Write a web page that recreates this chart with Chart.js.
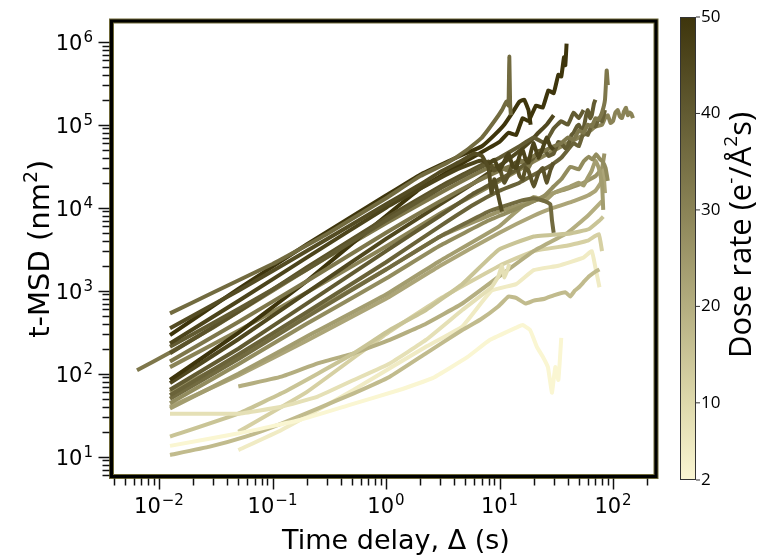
<!DOCTYPE html>
<html>
<head>
<meta charset="utf-8">
<script src="https://cdn.jsdelivr.net/npm/chart.js@4/dist/chart.umd.min.js"></script>
<style>
  html, body { margin: 0; padding: 0; background: #fff; }
</style>
</head>
<body>
<canvas id="myChart" width="767" height="556"></canvas>
<script>
// tick labels
const xMajor = [0.01, 0.1, 1, 10, 100];
const xExp = ["\u22122", "\u22121", "0", "1", "2"];
const yMajor = [10, 100, 1000, 1e4, 1e5, 1e6];
const yExp = ["1", "2", "3", "4", "5", "6"];
const cbarTicks = [2, 10, 20, 30, 40, 50];

// colour map of the dose rate
const cmapStops = [2, 10, 20, 30, 40, 50];
const cmapColors = [[250, 246, 210], [222, 217, 172], [180, 174, 128], [138, 131, 86], [98, 91, 50], [62, 53, 12]];

// dose rate of each trajectory
const doseRates = [36, 44, 50, 46, 40, 42, 33, 50, 45, 40, 38, 36, 28, 24, 8, 2, 17, 15, 5, 20, 33, 30, 22, 26, 12];

// time delay (s) and t-MSD (nm^2) per trajectory
const t01 = [0.0125, 0.03, 0.1, 0.3, 1, 2, 3.5, 5, 7, 9, 10.5, 11.5, 12, 12.2, 12.4, 12.6];
const m01 = [533, 950, 2100, 4800, 13000, 24000, 35000, 48000, 70000, 110000, 150000, 190000, 170000, 660000, 180000, 130000];
const t02 = [0.0125, 0.05, 0.2, 1, 2, 3, 4.5, 6, 7, 8, 8.5, 9, 10, 10.5];
const m02 = [352, 1000, 3000, 11000, 19000, 27000, 36000, 45000, 42000, 30000, 15000, 22000, 12000, 9000];
const t03 = [0.0125, 0.05, 0.2, 1, 2, 3.5, 5, 7, 9, 11, 13, 15, 16.5, 18, 18.8];
const m03 = [292, 1050, 3600, 14000, 25000, 36000, 45000, 55000, 75000, 100000, 140000, 190000, 200000, 150000, 100000];
const t04 = [0.0125, 0.05, 0.2, 1, 2, 4, 6, 7, 8, 9, 10, 11, 12, 13, 14, 15, 16, 17, 18, 19, 20, 22, 24, 26, 28, 30];
const m04 = [232, 750, 2500, 10000, 17000, 28000, 35000, 37000, 34000, 38000, 28000, 36000, 45000, 32000, 30000, 42000, 50000, 38000, 35000, 48000, 60000, 40000, 52000, 70000, 55000, 50000];
const t05 = [0.0125, 0.05, 0.2, 1, 3, 6, 10, 15, 20, 25, 30, 35, 40, 45, 50, 55];
const m05 = [211, 600, 1800, 7000, 17000, 28000, 40000, 55000, 70000, 60000, 90000, 110000, 100000, 140000, 120000, 150000];
const t06 = [0.0125, 0.05, 0.2, 1, 3, 5, 7, 8, 9, 10, 11, 12, 13, 14, 15, 16, 17, 18, 20, 22, 24, 26, 28, 30];
const m06 = [176, 560, 1900, 7500, 18000, 26000, 33000, 36000, 28000, 30000, 20000, 25000, 33000, 35000, 24000, 22000, 30000, 28000, 18000, 26000, 30000, 20000, 28000, 35000];
const t07 = [0.0125, 0.05, 0.2, 1, 3, 6, 10, 15, 20, 30, 35, 40, 45, 50, 55, 60, 65, 70, 75, 80, 85, 88, 90];
const m07 = [140, 420, 1300, 5000, 12000, 20000, 28000, 35000, 42000, 55000, 60000, 70000, 66000, 85000, 80000, 100000, 95000, 120000, 115000, 140000, 200000, 450000, 300000];
const t08 = [0.0125, 0.05, 0.2, 0.6, 2, 5, 10, 12, 14, 16, 18, 21, 24, 27, 30, 33, 35, 37, 38, 39];
const m08 = [84, 310, 1300, 4500, 17000, 36000, 62000, 80000, 75000, 120000, 110000, 170000, 160000, 260000, 240000, 400000, 380000, 650000, 520000, 950000];
const t09 = [0.0125, 0.05, 0.2, 1, 3, 6, 10, 14, 18, 22, 26, 30];
const m09 = [77, 260, 950, 4200, 11000, 20000, 32000, 45000, 60000, 80000, 100000, 130000];
const t10 = [0.0125, 0.05, 0.2, 1, 3, 6, 10, 15, 20, 22, 25, 27, 30, 33, 35, 38, 40, 43, 45, 48, 50, 53, 55, 58, 60, 63, 65, 68, 70];
const m10 = [64, 200, 700, 3000, 8000, 15000, 22000, 30000, 40000, 48000, 50000, 42000, 45000, 62000, 60000, 52000, 55000, 75000, 80000, 95000, 100000, 85000, 90000, 130000, 150000, 120000, 130000, 180000, 200000];
const t11 = [0.0125, 0.05, 0.2, 1, 3, 6, 10, 15, 20, 28, 35, 45, 50, 55, 60, 65, 70, 75, 80, 85];
const m11 = [55, 170, 550, 2200, 6000, 11000, 16000, 20000, 25000, 32000, 40000, 60000, 55000, 80000, 75000, 100000, 95000, 120000, 110000, 150000];
const t12 = [0.0125, 0.05, 0.2, 1, 3, 8, 15, 20, 25, 28, 29, 30];
const m12 = [50, 150, 480, 1800, 4500, 9000, 12000, 13000, 12000, 11000, 7000, 5000];
const t13 = [0.0125, 0.05, 0.2, 1, 3, 8, 15, 25, 30, 35, 42, 50, 55, 61, 66, 71, 76, 81, 86, 90];
const m13 = [44, 130, 400, 1400, 3500, 7000, 10000, 14000, 18000, 22000, 31000, 29000, 36000, 41000, 38000, 44000, 39000, 36000, 30000, 21000];
const t14 = [0.0125, 0.05, 0.2, 1, 3, 10, 20, 25, 30, 42, 50, 55, 61, 65, 70, 75, 80, 82];
const m14 = [38, 100, 280, 900, 2300, 6000, 13500, 12000, 15000, 18000, 20000, 18500, 24000, 28000, 37000, 30000, 19600, 9400];
const t15 = [0.0125, 0.05, 0.12, 0.25, 0.52, 1.08, 2.25, 4.7, 8.5, 9.8, 10.5, 11, 11.8, 12.2];
const m15 = [33, 33, 40, 53, 84, 133, 255, 585, 1100, 1500, 2000, 1450, 1800, 2100];
const t16 = [0.0125, 0.052, 0.175, 0.48, 1.33, 2.6, 5.2, 8.2, 14.3, 16, 18.6, 21.4, 24.2, 26.7, 27.8, 29, 31, 33, 35];
const m16 = [13.5, 19.3, 27.7, 42, 64, 89, 158, 254, 363, 386, 336, 209, 158, 120, 84, 59, 120, 84, 270];
const t17 = [0.0125, 0.028, 0.058, 0.12, 0.25, 0.52, 1.08, 2.25, 4.7, 6.8, 9.8, 12, 14, 17, 20, 25, 30, 38, 42, 46, 50, 56, 62, 70, 76];
const m17 = [10.5, 13.2, 17.4, 25, 38, 58, 92, 176, 336, 450, 650, 850, 820, 700, 760, 800, 880, 960, 850, 1000, 1100, 1300, 1500, 1700, 1800];
const t18 = [0.0125, 0.05, 0.12, 0.25, 0.52, 1.08, 2.25, 4.7, 9.8, 20, 42, 61, 76, 82];
const m18 = [17.4, 33, 58, 100, 176, 336, 585, 1200, 3100, 4500, 4900, 5500, 7000, 7800];
const t19 = [0.05, 0.12, 0.25, 0.52, 1.08, 2.25, 4.7, 8.5, 14, 20, 33, 55, 65, 70, 76];
const m19 = [12, 21, 36.5, 64, 116, 211, 370, 1000, 1200, 1770, 2000, 2500, 3000, 1900, 1100];
const t20 = [0.05, 0.12, 0.25, 0.52, 1.08, 2.25, 4.7, 10, 20, 40, 60, 80];
const m20 = [70, 92, 133, 176, 255, 400, 700, 1500, 3000, 5000, 8000, 12000];
const t21 = [0.0064, 0.0125, 0.03, 0.1, 0.3, 1, 3, 6, 9, 12, 15, 18, 20];
const m21 = [110, 180, 360, 1000, 2500, 6500, 15000, 25000, 32000, 28000, 38000, 30000, 42000];
const t22 = [0.0125, 0.05, 0.2, 1, 3, 10, 20, 40, 60, 70, 80, 85, 90, 95, 100, 105, 110, 115, 120, 125, 130, 135, 140, 145, 150];
const m22 = [120, 330, 950, 3400, 8500, 21000, 36000, 60000, 80000, 95000, 100000, 120000, 130000, 105000, 110000, 140000, 150000, 125000, 120000, 145000, 160000, 130000, 140000, 135000, 120000];
const t23 = [0.0125, 0.05, 0.2, 1, 3, 10, 20, 30, 45, 60, 70, 78, 82, 85];
const m23 = [40, 95, 250, 800, 2000, 5000, 8000, 10000, 12000, 14000, 16000, 20000, 28000, 15000];
const t24 = [0.0125, 0.05, 0.2, 1, 3, 10, 20, 30, 40, 55, 70, 80, 84];
const m24 = [60, 160, 500, 1800, 4500, 9000, 12000, 15000, 17000, 20000, 24000, 30000, 45000];
const t25 = [0.05, 0.2, 1, 3, 10, 20, 40, 60, 75, 80];
const m25 = [20, 60, 300, 800, 2000, 3000, 3500, 4000, 4800, 3000];

const times = [t01, t02, t03, t04, t05, t06, t07, t08, t09, t10, t11, t12, t13, t14, t15, t16, t17, t18, t19, t20, t21, t22, t23, t24, t25];
const msds = [m01, m02, m03, m04, m05, m06, m07, m08, m09, m10, m11, m12, m13, m14, m15, m16, m17, m18, m19, m20, m21, m22, m23, m24, m25];

function doseColor(d) {
  let i = 0;
  while (i < cmapStops.length - 2 && d > cmapStops[i + 1]) i++;
  const f = Math.min(1, Math.max(0, (d - cmapStops[i]) / (cmapStops[i + 1] - cmapStops[i])));
  const a = cmapColors[i], b = cmapColors[i + 1];
  const c = a.map((v, k) => Math.round(v + (b[k] - v) * f));
  return `rgb(${c[0]},${c[1]},${c[2]})`;
}

const datasets = doseRates.map((d, i) => ({
  data: times[i].map((t, j) => ({ x: t, y: msds[i][j] })),
  borderColor: doseColor(d),
  borderWidth: 4,
  pointRadius: 0,
  fill: false,
  tension: 0.1,
}));

function drawPow(ctx, x, y, exp, align) {
  ctx.font = "21px 'DejaVu Sans'";
  const wb = ctx.measureText("10").width;
  ctx.font = "15px 'DejaVu Sans'";
  const we = ctx.measureText(exp).width;
  const w = wb + we + 1;
  let left = align === "right" ? x - w : x - w / 2;
  ctx.fillStyle = "#000";
  ctx.textAlign = "left";
  ctx.textBaseline = "alphabetic";
  ctx.font = "21px 'DejaVu Sans'";
  ctx.fillText("10", left, y);
  ctx.font = "15px 'DejaVu Sans'";
  ctx.fillText(exp, left + wb + 1, y - 8);
}

const decorations = {
  id: "decorations",
  afterDatasetsDraw(chart) {
    const ctx = chart.ctx;
    const xs = chart.scales.x, ys = chart.scales.y;
    const a = chart.chartArea;
    ctx.save();

    // frame
    ctx.strokeStyle = "rgb(110,104,55)";
    ctx.lineWidth = 5;
    ctx.strokeRect(a.left, a.top, a.right - a.left, a.bottom - a.top);
    ctx.strokeStyle = "#000";
    ctx.lineWidth = 3;
    ctx.strokeRect(a.left, a.top, a.right - a.left, a.bottom - a.top);

    // ticks
    ctx.strokeStyle = "#111";
    ctx.lineWidth = 1.5;
    for (let e = -3; e <= 2; e++) {
      for (let m = 1; m <= 9; m++) {
        const v = m * Math.pow(10, e);
        if (v < xs.min || v > xs.max) continue;
        const px = Math.round(xs.getPixelForValue(v)) + 0.5;
        const len = m === 1 ? 11 : 7;
        ctx.beginPath();
        ctx.moveTo(px, a.bottom + 2);
        ctx.lineTo(px, a.bottom + 2 + len);
        ctx.stroke();
      }
    }
    for (let e = 0; e <= 6; e++) {
      for (let m = 1; m <= 9; m++) {
        const v = m * Math.pow(10, e);
        if (v < ys.min || v > ys.max) continue;
        const py = Math.round(ys.getPixelForValue(v)) + 0.5;
        const len = m === 1 ? 11 : 7;
        ctx.beginPath();
        ctx.moveTo(a.left - 2, py);
        ctx.lineTo(a.left - 2 - len, py);
        ctx.stroke();
      }
    }

    // tick labels
    xMajor.forEach((v, i) => drawPow(ctx, xs.getPixelForValue(v), 513, xExp[i], "center"));
    yMajor.forEach((v, i) => drawPow(ctx, 93, ys.getPixelForValue(v) + 8, yExp[i], "right"));

    // axis titles
    ctx.fillStyle = "#000";
    ctx.font = "27px 'DejaVu Sans'";
    ctx.textAlign = "center";
    ctx.textBaseline = "alphabetic";
    ctx.fillText("Time delay, \u0394 (s)", 396, 549);

    ctx.save();
    ctx.translate(49, (a.top + a.bottom) / 2);
    ctx.rotate(-Math.PI / 2);
    ctx.font = "29px 'DejaVu Sans'";
    const w1 = ctx.measureText("t-MSD (nm").width;
    ctx.font = "19px 'DejaVu Sans'";
    const w2 = ctx.measureText("2").width;
    ctx.font = "29px 'DejaVu Sans'";
    const w3 = ctx.measureText(")").width;
    let sx = -(w1 + w2 + w3) / 2;
    ctx.textAlign = "left";
    ctx.fillText("t-MSD (nm", sx, 0);
    ctx.font = "19px 'DejaVu Sans'";
    ctx.fillText("2", sx + w1, -12);
    ctx.font = "29px 'DejaVu Sans'";
    ctx.fillText(")", sx + w1 + w2, 0);
    ctx.restore();

    // colour bar
    const cbL = 680, cbR = 696, cbT = 17, cbB = 480;
    const dMin = cmapStops[0], dMax = cmapStops[cmapStops.length - 1];
    const grad = ctx.createLinearGradient(0, cbB, 0, cbT);
    cmapStops.forEach((d) => grad.addColorStop((d - dMin) / (dMax - dMin), doseColor(d)));
    ctx.fillStyle = grad;
    ctx.fillRect(cbL, cbT, cbR - cbL, cbB - cbT);
    ctx.strokeStyle = "#333";
    ctx.lineWidth = 1;
    ctx.strokeRect(cbL + 0.5, cbT + 0.5, cbR - cbL - 1, cbB - cbT - 1);
    ctx.fillStyle = "#000";
    ctx.font = "17px 'Open Sans'";
    ctx.textAlign = "left";
    ctx.textBaseline = "middle";
    cbarTicks.forEach((d) => {
      const py = cbB - (d - dMin) / (dMax - dMin) * (cbB - cbT);
      ctx.beginPath();
      ctx.moveTo(cbR, py);
      ctx.lineTo(cbR + 4, py);
      ctx.stroke();
      ctx.fillText(String(d), cbR + 5, py);
    });

    ctx.save();
    ctx.translate(751, 235);
    ctx.rotate(-Math.PI / 2);
    ctx.textBaseline = "alphabetic";
    const parts = [["Dose rate (e", 31, 0], ["-", 19, -14], ["/\u00c5", 31, 0], ["2", 19, -14], ["s)", 31, 0]];
    let tw = 0;
    parts.forEach((p) => { ctx.font = p[1] + "px 'Open Sans'"; tw += ctx.measureText(p[0]).width; });
    let cx = -tw / 2;
    parts.forEach((p) => {
      ctx.font = p[1] + "px 'Open Sans'";
      ctx.fillText(p[0], cx, p[2]);
      cx += ctx.measureText(p[0]).width;
    });
    ctx.restore();

    ctx.restore();
  },
};

const ctx = document.getElementById("myChart").getContext("2d");

const myChart = new Chart(ctx, {
  type: "line",
  data: { datasets: datasets },
  options: {
    responsive: false,
    animation: false,
    devicePixelRatio: 1,
    layout: { padding: { left: 111.5, right: 111, top: 21, bottom: 79.5 } },
    plugins: { legend: { display: false }, tooltip: { enabled: false } },
    scales: {
      x: { type: "logarithmic", min: 0.003815, max: 239.2, display: false },
      y: { type: "logarithmic", min: 5.77, max: 1.776e6, display: false },
    },
  },
  plugins: [decorations],
});
</script>
</body>
</html>
